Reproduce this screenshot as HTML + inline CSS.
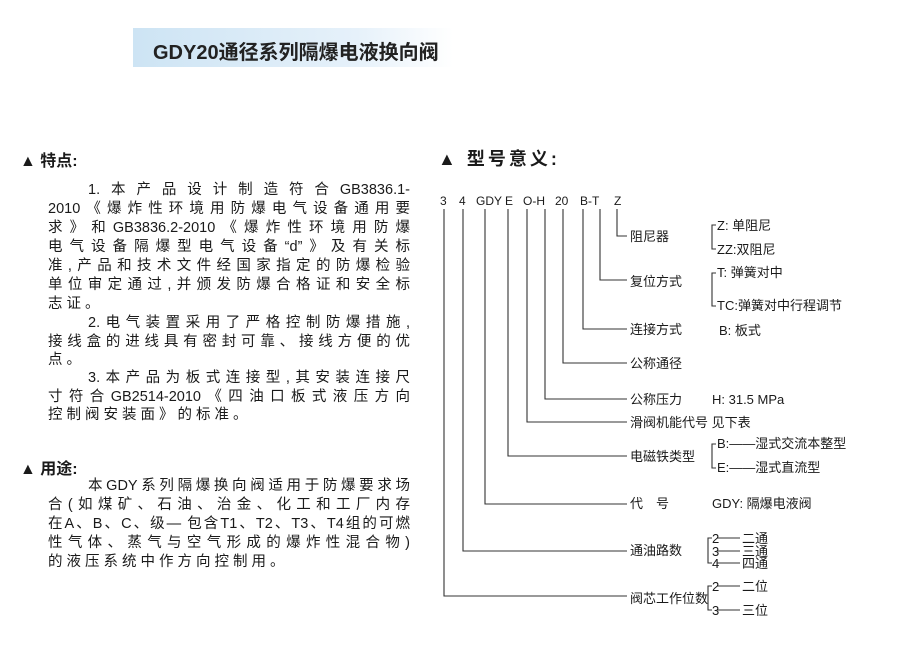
<!DOCTYPE html>
<html><head><meta charset="utf-8"><style>
body{margin:0;width:900px;height:656px;background:#fff;position:relative;overflow:hidden;font-family:"Liberation Sans","Noto Sans CJK SC",sans-serif;color:#1a1a1a}
.title{position:absolute;left:133px;top:28px;width:320px;height:39px;background:linear-gradient(90deg,#cde4f4,#e6f1fa 70%,#fff);}
.title span{position:absolute;left:20px;top:8px;font-size:20px;font-weight:bold;letter-spacing:0px;color:#222;white-space:nowrap}
.h{position:absolute;font-size:16px;font-weight:bold;white-space:nowrap}
.ln{position:absolute;left:48px;width:362px;font-size:14.5px;height:19px;line-height:19px;text-align:justify;text-align-last:justify;white-space:nowrap}
.ln.s{text-align-last:left;letter-spacing:4px}
svg{position:absolute;left:0;top:0}
svg text{font-family:"Liberation Sans","Noto Sans CJK SC",sans-serif;font-size:13px;fill:#1a1a1a}
</style></head><body>
<div class="title"><span>GDY20通径系列隔爆电液换向阀</span></div>
<div class="h" style="left:20px;top:147px">▲ 特点:</div>
<div class="h" style="left:438px;top:145px;font-size:18px;letter-spacing:3px">▲ 型号意义:</div>
<div class="ln" style="top:181px;left:88px;width:322px">1.本产品设计制造符合GB3836.1-</div>
<div class="ln" style="top:200px">2010《爆炸性环境用防爆电气设备通用要</div>
<div class="ln" style="top:219px">求》和GB3836.2-2010《爆炸性环境用防爆</div>
<div class="ln" style="top:238px">电气设备隔爆型电气设备“d”》及有关标</div>
<div class="ln" style="top:257px">准,产品和技术文件经国家指定的防爆检验</div>
<div class="ln" style="top:276px">单位审定通过,并颁发防爆合格证和安全标</div>
<div class="ln s" style="top:295px">志证。</div>
<div class="ln" style="top:314px;left:88px;width:322px">2.电气装置采用了严格控制防爆措施,</div>
<div class="ln" style="top:333px">接线盒的进线具有密封可靠、接线方便的优</div>
<div class="ln s" style="top:351px">点。</div>
<div class="ln" style="top:369px;left:88px;width:322px">3.本产品为板式连接型,其安装连接尺</div>
<div class="ln" style="top:388px">寸符合GB2514-2010《四油口板式液压方向</div>
<div class="ln s" style="top:406px">控制阀安装面》的标准。</div>
<div class="h" style="left:20px;top:455px">▲ 用途:</div>
<div class="ln" style="top:477px;left:88px;width:322px">本GDY系列隔爆换向阀适用于防爆要求场</div>
<div class="ln" style="top:496px">合(如煤矿、石油、治金、化工和工厂内存</div>
<div class="ln" style="top:515px">在A、B、C、级— 包含T1、T2、T3、T4组的可燃</div>
<div class="ln" style="top:534px">性气体、蒸气与空气形成的爆炸性混合物)</div>
<div class="ln s" style="top:553px">的液压系统中作方向控制用。</div>
<svg width="900" height="656" viewBox="0 0 900 656">
<g>
<text x="440" y="205" style="font-size:12px">3</text><text x="459" y="205" style="font-size:12px">4</text>
<text x="476" y="205" style="font-size:12px">GDY</text><text x="505" y="205" style="font-size:12px">E</text>
<text x="523" y="205" style="font-size:12px">O-H</text><text x="555" y="205" style="font-size:12px">20</text>
<text x="580" y="205" style="font-size:12px">B-T</text><text x="614" y="205" style="font-size:12px">Z</text>
</g>
<g stroke="#333" stroke-width="1.1" fill="none">
<polyline points="444,209 444,596 627,596"/>
<polyline points="463,209 463,551 627,551"/>
<polyline points="485,209 485,504 627,504"/>
<polyline points="508,209 508,456 627,456"/>
<polyline points="527,209 527,422 627,422"/>
<polyline points="545,209 545,399 627,399"/>
<polyline points="563,209 563,363 627,363"/>
<polyline points="583,209 583,329 627,329"/>
<polyline points="600,209 600,280 627,280"/>
<polyline points="617,209 617,236 627,236"/>
<polyline points="716,225 712,225 712,249 716,249"/>
<polyline points="716,273 712,273 712,306 716,306"/>
<polyline points="716,444 712,444 712,468 716,468"/>
<polyline points="712,538 708,538 708,563 712,563"/>
<polyline points="712,586 708,586 708,610 712,610"/>
<line x1="717" y1="538" x2="740" y2="538"/><line x1="717" y1="551" x2="740" y2="551"/><line x1="717" y1="563" x2="740" y2="563"/>
<line x1="717" y1="586" x2="740" y2="586"/><line x1="717" y1="610" x2="740" y2="610"/>
</g>
<text x="630" y="241">阻尼器</text>
<text x="630" y="286">复位方式</text>
<text x="630" y="334">连接方式</text>
<text x="630" y="368">公称通径</text>
<text x="630" y="404">公称压力</text>
<text x="630" y="427">滑阀机能代号 见下表</text>
<text x="630" y="461">电磁铁类型</text>
<text x="630" y="508">代　号</text>
<text x="630" y="555">通油路数</text>
<text x="630" y="603">阀芯工作位数</text>
<text x="717" y="230">Z:  单阻尼</text>
<text x="717" y="254">ZZ:双阻尼</text>
<text x="717" y="277">T:  弹簧对中</text>
<text x="717" y="310">TC:弹簧对中行程调节</text>
<text x="719" y="335">B: 板式</text>
<text x="712" y="404" font-size="11">H:  31.5  MPa</text>
<text x="717" y="448">B:——湿式交流本整型</text>
<text x="717" y="472">E:——湿式直流型</text>
<text x="712" y="508">GDY:  隔爆电液阀</text>
<text x="712" y="543">2</text><text x="742" y="543">二通</text>
<text x="712" y="556">3</text><text x="742" y="556">三通</text>
<text x="712" y="568">4</text><text x="742" y="568">四通</text>
<text x="712" y="591">2</text><text x="742" y="591">二位</text>
<text x="712" y="615">3</text><text x="742" y="615">三位</text>
</svg>
</body></html>
